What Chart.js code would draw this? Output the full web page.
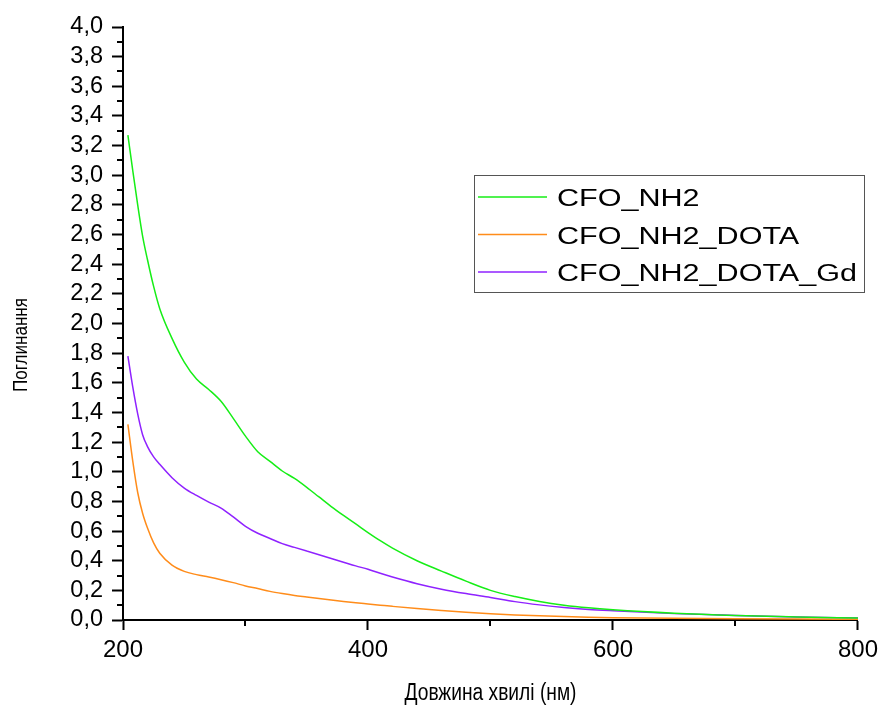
<!DOCTYPE html>
<html>
<head>
<meta charset="utf-8">
<script src="https://cdn.jsdelivr.net/npm/chart.js@4.4.1/dist/chart.umd.min.js"></script>
<style>
  html, body { margin: 0; padding: 0; background: #fff; }
  #wrap { width: 884px; height: 711px; }
</style>
</head>
<body>
<div id="wrap"><canvas id="absChart" width="884" height="711"></canvas></div>
<script>
// wavelength, nm
const wavelengths = [204, 208, 212, 216, 220, 225, 230, 240, 250, 260, 270, 280, 290, 300,
    310, 320, 330, 340, 350, 360, 370, 380, 390, 400, 410, 420, 440, 460, 480, 500,
    520, 540, 560, 580, 600, 650, 700, 750, 800];

const cfoNh2 = [3.27, 3.03, 2.80, 2.59, 2.43, 2.25, 2.10, 1.90, 1.74, 1.625, 1.555, 1.475, 1.36, 1.24,
    1.135, 1.07, 1.005, 0.955, 0.895, 0.83, 0.765, 0.705, 0.648, 0.59, 0.535, 0.485, 0.40, 0.33, 0.262, 0.2,
    0.158, 0.125, 0.1, 0.082, 0.069, 0.046, 0.031, 0.021, 0.013];

const cfoNh2Dota = [1.32, 1.07, 0.86, 0.72, 0.62, 0.52, 0.45, 0.37, 0.328, 0.306, 0.29, 0.272, 0.252, 0.23,
    0.212, 0.193, 0.178, 0.165, 0.155, 0.145, 0.135, 0.125, 0.116, 0.108, 0.1, 0.092, 0.077, 0.064, 0.052, 0.042,
    0.034, 0.028, 0.023, 0.019, 0.016, 0.011, 0.008, 0.006, 0.005];

const cfoNh2DotaGd = [1.78, 1.57, 1.39, 1.25, 1.17, 1.10, 1.05, 0.96, 0.89, 0.84, 0.795, 0.755, 0.695, 0.632,
    0.585, 0.55, 0.515, 0.49, 0.465, 0.44, 0.415, 0.39, 0.365, 0.342, 0.315, 0.29, 0.245, 0.208, 0.178, 0.152,
    0.124, 0.102, 0.084, 0.071, 0.062, 0.043, 0.031, 0.021, 0.013];

const seriesLabels = ['CFO_NH2', 'CFO_NH2_DOTA', 'CFO_NH2_DOTA_Gd'];
const seriesColors = ['#16ee16', '#ff8c1a', '#8f22ff'];

const xMajor = [200, 400, 600, 800];

function toPoints(ys) {
    return wavelengths.map((x, i) => ({ x: x, y: ys[i] }));
}

function isMajorY(v) {
    return Math.round(v * 10) % 2 === 0;
}

Chart.defaults.font.family = '"Liberation Sans", Arial, sans-serif';
Chart.defaults.color = '#000';

// legend box, minor ticks and axis titles
const extras = {
    id: 'extras',
    afterDraw(chart) {
        const ctx = chart.ctx;
        const xs = chart.scales.x;
        const ys = chart.scales.y;
        const area = chart.chartArea;
        ctx.save();

        // minor ticks
        ctx.strokeStyle = '#000';
        ctx.lineWidth = 2;
        ctx.beginPath();
        [300, 500, 700].forEach(v => {
            const px = Math.round(xs.getPixelForValue(v));
            ctx.moveTo(px, area.bottom);
            ctx.lineTo(px, area.bottom + 6);
        });
        ys.ticks.forEach(t => {
            if (!isMajorY(t.value)) {
                const py = Math.round(ys.getPixelForValue(t.value));
                ctx.moveTo(area.left - 6, py);
                ctx.lineTo(area.left, py);
            }
        });
        ctx.stroke();

        // axis titles
        ctx.fillStyle = '#000';
        ctx.textAlign = 'center';
        ctx.textBaseline = 'middle';
        ctx.font = '23px "Liberation Sans", Arial, sans-serif';
        let t = 'Довжина хвилі (нм)';
        let w = ctx.measureText(t).width;
        ctx.save();
        ctx.translate((area.left + area.right) / 2, 694);
        ctx.scale(172 / w, 1);
        ctx.fillText(t, 0, 0);
        ctx.restore();

        ctx.font = '20px "Liberation Sans", Arial, sans-serif';
        t = 'Поглинання';
        w = ctx.measureText(t).width;
        ctx.save();
        ctx.translate(21.5, 345);
        ctx.rotate(-Math.PI / 2);
        ctx.scale(94 / w, 1);
        ctx.fillText(t, 0, 0);
        ctx.restore();

        // legend
        ctx.strokeStyle = '#555';
        ctx.lineWidth = 1;
        ctx.strokeRect(474.5, 175.5, 390, 117);
        ctx.font = '23.5px "Liberation Sans", Arial, sans-serif';
        ctx.textAlign = 'left';
        ctx.textBaseline = 'alphabetic';
        chart.data.datasets.forEach((ds, i) => {
            const yRow = 197 + i * 37.5;
            ctx.strokeStyle = ds.borderColor;
            ctx.lineWidth = 1.5;
            ctx.beginPath();
            ctx.moveTo(478, yRow);
            ctx.lineTo(547, yRow);
            ctx.stroke();
            ctx.save();
            ctx.translate(557, yRow + 9);
            ctx.scale(1.3, 1);
            ctx.fillText(ds.label, 0, 0);
            ctx.restore();
        });
        ctx.restore();
    }
};

new Chart(document.getElementById('absChart').getContext('2d'), {
    type: 'line',
    data: {
        datasets: [
            { label: seriesLabels[0], data: toPoints(cfoNh2), borderColor: seriesColors[0] },
            { label: seriesLabels[1], data: toPoints(cfoNh2Dota), borderColor: seriesColors[1] },
            { label: seriesLabels[2], data: toPoints(cfoNh2DotaGd), borderColor: seriesColors[2] }
        ]
    },
    options: {
        responsive: false,
        animation: false,
        parsing: false,
        layout: { padding: { top: 27, right: 25, bottom: 0, left: 0 } },
        elements: {
            line: { borderWidth: 1.5, cubicInterpolationMode: 'monotone', fill: false },
            point: { radius: 0 }
        },
        plugins: {
            legend: { display: false },
            tooltip: { enabled: false }
        },
        scales: {
            x: {
                type: 'linear',
                min: 200,
                max: 800,
                afterFit: s => { s.height = 91; },
                border: { display: true, color: '#000', width: 2 },
                grid: {
                    drawOnChartArea: false,
                    drawTicks: true,
                    tickLength: 10,
                    tickWidth: 2,
                    tickColor: c => xMajor.includes(c.tick.value) ? '#000' : 'rgba(0,0,0,0)'
                },
                ticks: {
                    stepSize: 100,
                    autoSkip: false,
                    maxRotation: 0,
                    padding: 6,
                    font: { size: 24 },
                    callback: v => xMajor.includes(v) ? String(v) : ''
                }
            },
            y: {
                type: 'linear',
                min: 0,
                max: 4,
                afterFit: s => { s.width = 123; },
                border: { display: true, color: '#000', width: 2 },
                grid: {
                    drawOnChartArea: false,
                    drawTicks: true,
                    tickLength: 11,
                    tickWidth: 2,
                    tickColor: c => isMajorY(c.tick.value) ? '#000' : 'rgba(0,0,0,0)'
                },
                ticks: {
                    stepSize: 0.1,
                    autoSkip: false,
                    padding: 9,
                    font: { size: 23.5 },
                    callback: v => isMajorY(v) ? v.toFixed(1).replace('.', ',') : ''
                }
            }
        }
    },
    plugins: [extras]
});
</script>
</body>
</html>
